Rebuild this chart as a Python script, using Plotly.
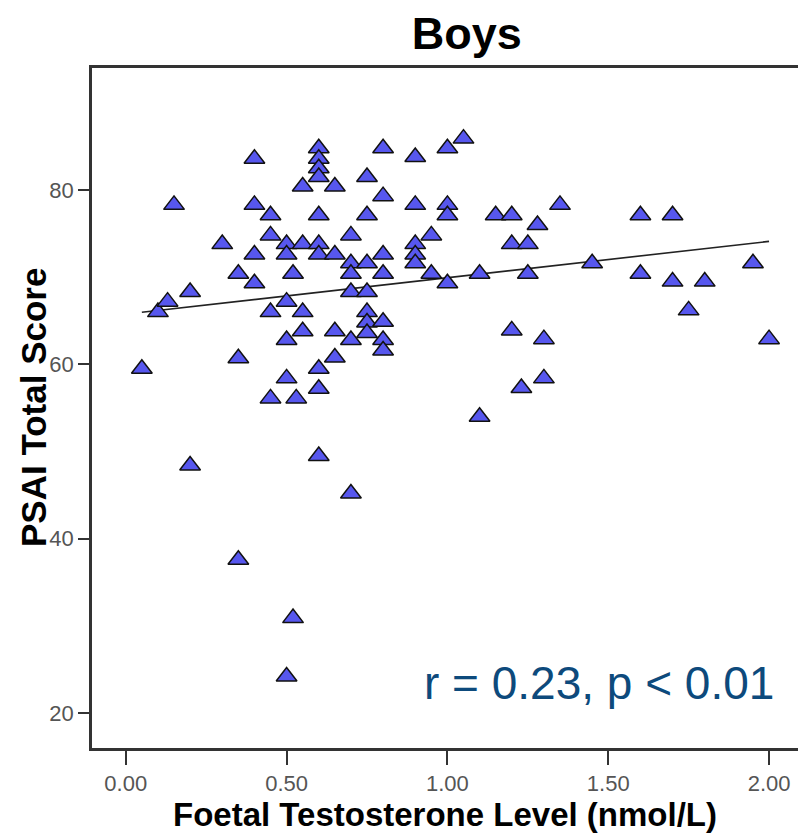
import numpy as np
import plotly.graph_objects as go

# Foetal testosterone (nmol/L) and PSAI total score for each boy
testosterone = [
    0.05, 0.10, 0.13, 0.15, 0.20, 0.20, 0.30, 0.35, 0.35, 0.35,
    0.40, 0.40, 0.40, 0.40, 0.45, 0.45, 0.45, 0.45, 0.50, 0.50,
    0.50, 0.50, 0.50, 0.50, 0.52, 0.52, 0.53, 0.55, 0.55, 0.55,
    0.55, 0.60, 0.60, 0.60, 0.60, 0.60, 0.60, 0.60, 0.60, 0.60,
    0.60, 0.65, 0.65, 0.65, 0.65, 0.70, 0.70, 0.70, 0.70, 0.70,
    0.70, 0.75, 0.75, 0.75, 0.75, 0.75, 0.75, 0.75, 0.80, 0.80,
    0.80, 0.80, 0.80, 0.80, 0.80, 0.90, 0.90, 0.90, 0.90, 0.90,
    0.95, 0.95, 1.00, 1.00, 1.00, 1.00, 1.05, 1.10, 1.10, 1.15,
    1.20, 1.20, 1.20, 1.23, 1.25, 1.25, 1.28, 1.30, 1.30, 1.35,
    1.45, 1.60, 1.60, 1.70, 1.70, 1.75, 1.80, 1.95, 2.00,
]
psai_score = [
    59.5, 66.0, 67.2, 78.3, 68.3, 48.4, 73.8, 70.4, 60.7, 37.6,
    83.6, 78.3, 72.6, 69.3, 77.1, 74.8, 66.0, 56.1, 73.8, 72.6,
    67.2, 62.8, 58.4, 24.2, 70.4, 30.9, 56.1, 80.4, 73.8, 66.0,
    63.8, 84.8, 83.6, 82.5, 81.5, 77.1, 73.8, 72.6, 59.5, 57.2,
    49.5, 80.4, 72.6, 63.8, 60.8, 74.8, 71.6, 70.4, 68.3, 62.8,
    45.2, 81.5, 77.1, 71.6, 68.3, 66.0, 64.8, 63.6, 84.8, 79.3,
    72.6, 70.4, 64.9, 62.8, 61.6, 83.8, 78.3, 73.8, 72.6, 71.6,
    74.8, 70.4, 84.8, 78.3, 77.1, 69.3, 85.9, 70.4, 54.0, 77.1,
    77.1, 73.8, 63.9, 57.3, 73.8, 70.4, 76.0, 62.9, 58.4, 78.3,
    71.6, 77.1, 70.4, 77.1, 69.5, 66.2, 69.5, 71.6, 62.9,
]

x_ticks = [0.0, 0.5, 1.0, 1.5, 2.0]
x_tick_labels = ["0.00", "0.50", "1.00", "1.50", "2.00"]
y_ticks = [20, 40, 60, 80]
stats_label = "r = 0.23, p < 0.01"
y_title = "<b>PSAI Total Score</b>"

# Least-squares fit line across the observed range
x_arr = np.array(testosterone)
y_arr = np.array(psai_score)
slope, intercept = np.polyfit(x_arr, y_arr, 1)
fit_x = np.array([x_arr.min(), x_arr.max()])
fit_y = intercept + slope * fit_x

fig = go.Figure()

fig.add_trace(go.Scatter(
    x=fit_x, y=fit_y, mode="lines",
    line=dict(color="#222222", width=1.6),
    hoverinfo="skip", showlegend=False,
))

fig.add_trace(go.Scatter(
    x=testosterone, y=psai_score, mode="markers",
    marker=dict(symbol="triangle-up", size=18, color="#5757ee",
                line=dict(color="#111111", width=1.5)),
    showlegend=False,
))

bold_font = "Liberation Sans, Arial, sans-serif"

fig.add_annotation(
    x=1, xref="paper", xanchor="right", xshift=-22,
    y=23.5, yref="y", yanchor="middle",
    text=stats_label, showarrow=False,
    font=dict(family=bold_font, size=46, color="#0d4a7c"),
)

# Vertical axis title placed beside the tick labels
fig.add_annotation(
    x=0, xref="paper", xanchor="center", xshift=-59,
    y=0.5, yref="paper", yanchor="middle",
    text=y_title, textangle=-90, showarrow=False,
    font=dict(family=bold_font, size=35, color="#000000"),
)

tick_font = dict(family="Liberation Sans Narrow, Arial Narrow, Liberation Sans, sans-serif",
                 size=22, color="#555555")

fig.update_layout(
    width=798, height=837,
    margin=dict(l=92, r=0, t=68, b=89),
    paper_bgcolor="white", plot_bgcolor="white",
    title=dict(text="<b>Boys</b>", x=0.585, xanchor="center", y=0.960, yanchor="middle",
               font=dict(family=bold_font, size=45, color="#000000")),
    xaxis=dict(
        range=[-0.105, 2.09], tickvals=x_ticks, ticktext=x_tick_labels,
        showgrid=False, zeroline=False,
        showline=True, linecolor="#333333", linewidth=2.5, mirror=True,
        ticks="outside", ticklen=14, tickwidth=1.5, tickcolor="#333333",
        tickfont=tick_font,
        title=dict(text="<b>Foetal Testosterone Level (nmol/L)</b>",
                   font=dict(family=bold_font, size=33, color="#000000"), standoff=6),
    ),
    yaxis=dict(
        range=[16, 94], tickvals=y_ticks,
        showgrid=False, zeroline=False,
        showline=True, linecolor="#333333", linewidth=2.5,
        ticks="outside", ticklen=11, tickwidth=1.5, tickcolor="#333333",
        tickfont=tick_font,
    ),
)

fig.write_html("out.html")
